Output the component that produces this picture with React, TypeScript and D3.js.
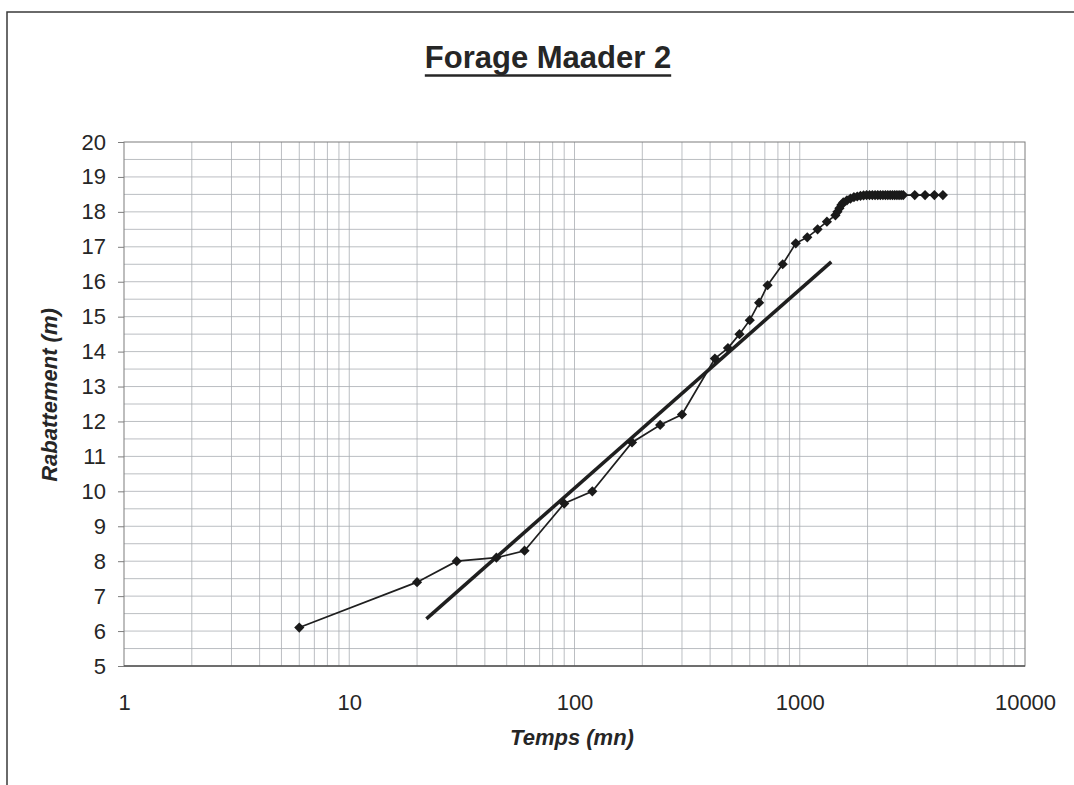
import React, { useEffect, useRef } from 'react';
import * as d3 from 'd3';

// Drawdown test data (time in minutes, drawdown in metres)
const times = [
  6, 20, 30, 45, 60, 90, 120, 180, 240, 300,
  420, 480, 540, 600, 660, 720, 840, 960, 1080, 1200,
  1320, 1440, 1470, 1500, 1530, 1560, 1620, 1680, 1740, 1800,
  1860, 1920, 1980, 2040, 2100, 2160, 2220, 2280, 2340, 2400,
  2460, 2520, 2580, 2640, 2700, 2760, 2820, 2880,
  3240, 3600, 3960, 4320,
];
const drawdown = [
  6.1, 7.4, 8.0, 8.1, 8.3, 9.65, 10.0, 11.4, 11.9, 12.2,
  13.8, 14.1, 14.5, 14.9, 15.4, 15.9, 16.5, 17.1, 17.27, 17.5,
  17.72, 17.9, 18.0, 18.1, 18.2, 18.27, 18.33, 18.38, 18.42, 18.44,
  18.46, 18.47, 18.48, 18.48, 18.48, 18.48, 18.48, 18.48, 18.48, 18.48,
  18.48, 18.48, 18.48, 18.48, 18.48, 18.48, 18.48, 18.48,
  18.48, 18.48, 18.48, 18.48,
];

// Jacob straight-line fit
const fitTimes = [22, 1380];
const fitDrawdown = [6.35, 16.57];

const xTicks = [1, 10, 100, 1000, 10000];
const yTicks = d3.range(5, 21);

const title = 'Forage Maader 2';
const xTitle = 'Temps (mn)';
const yTitle = 'Rabattement (m)';

const W = 1074;
const H = 785;
const FONT = '"Liberation Sans", Arial, sans-serif';

export default function App() {
  const svgRef = useRef<SVGSVGElement>(null);

  useEffect(() => {
    if (!svgRef.current) return;
    const svg = d3.select(svgRef.current);
    svg.selectAll('*').remove();

    const margin = { top: 142, right: 49, bottom: 119, left: 124 };
    const innerWidth = W - margin.left - margin.right;
    const innerHeight = H - margin.top - margin.bottom;

    // outer chart frame (only top and left edges visible in the scan)
    svg.append('path')
      .attr('d', `M7,${H} L7,12 L${W},12`)
      .attr('fill', 'none')
      .attr('stroke', '#3a3a3a')
      .attr('stroke-width', 1.5);

    // title
    const titleText = svg.append('text')
      .attr('x', 548)
      .attr('y', 68)
      .attr('text-anchor', 'middle')
      .attr('font-family', FONT)
      .attr('font-weight', 'bold')
      .attr('font-size', 31)
      .attr('fill', '#262626')
      .text(title);
    const tb = (titleText.node() as SVGTextElement).getBBox();
    svg.append('line')
      .attr('x1', tb.x).attr('x2', tb.x + tb.width)
      .attr('y1', 75.5).attr('y2', 75.5)
      .attr('stroke', '#262626')
      .attr('stroke-width', 2.5);

    const g = svg.append('g')
      .attr('transform', `translate(${margin.left},${margin.top})`);

    const xScale = d3.scaleLog().domain([1, 10000]).range([0, innerWidth]);
    const yScale = d3.scaleLinear().domain([5, 20]).range([innerHeight, 0]);

    // gridlines
    const xGrid = xScale.ticks().filter(t => t > 1 && t < 10000);
    g.append('g')
      .selectAll('line')
      .data(xGrid)
      .join('line')
      .attr('x1', d => xScale(d)).attr('x2', d => xScale(d))
      .attr('y1', 0).attr('y2', innerHeight)
      .attr('stroke', '#a9adb2')
      .attr('stroke-width', 0.8);

    const yGrid = d3.range(5.5, 20, 0.5);
    g.append('g')
      .selectAll('line')
      .data(yGrid)
      .join('line')
      .attr('x1', 0).attr('x2', innerWidth)
      .attr('y1', d => yScale(d)).attr('y2', d => yScale(d))
      .attr('stroke', '#a9adb2')
      .attr('stroke-width', 0.8);

    // plot frame
    g.append('rect')
      .attr('width', innerWidth)
      .attr('height', innerHeight)
      .attr('fill', 'none')
      .attr('stroke', '#7d7d7d')
      .attr('stroke-width', 1);
    g.append('line')
      .attr('x1', 0).attr('x2', innerWidth)
      .attr('y1', innerHeight).attr('y2', innerHeight)
      .attr('stroke', '#555')
      .attr('stroke-width', 1.5);

    // axes
    const xAxis = g.append('g')
      .attr('transform', `translate(0,${innerHeight})`)
      .call(d3.axisBottom(xScale).tickValues(xTicks).tickFormat(d3.format('d')).tickSize(0).tickPadding(28));
    xAxis.select('.domain').remove();

    const yAxis = g.append('g')
      .call(d3.axisLeft(yScale).tickValues(yTicks).tickFormat(d3.format('d')).tickSize(6).tickPadding(12));
    yAxis.select('.domain').remove();
    yAxis.selectAll('line').attr('stroke', '#7d7d7d');

    [xAxis, yAxis].forEach(a => a.selectAll('text')
      .attr('font-family', FONT)
      .attr('font-size', 22)
      .attr('fill', '#262626'));

    // axis titles
    svg.append('text')
      .attr('x', 572)
      .attr('y', 745)
      .attr('text-anchor', 'middle')
      .attr('font-family', FONT)
      .attr('font-style', 'italic')
      .attr('font-weight', 'bold')
      .attr('font-size', 22)
      .attr('fill', '#262626')
      .text(xTitle);

    svg.append('text')
      .attr('transform', 'translate(57,395) rotate(-90)')
      .attr('text-anchor', 'middle')
      .attr('font-family', FONT)
      .attr('font-style', 'italic')
      .attr('font-weight', 'bold')
      .attr('font-size', 22)
      .attr('fill', '#262626')
      .text(yTitle);

    // fit line
    const fitData = fitTimes.map((t, i) => ({ t, s: fitDrawdown[i] }));
    const line = d3.line<{ t: number; s: number }>()
      .x(d => xScale(d.t))
      .y(d => yScale(d.s));

    g.append('path')
      .datum(fitData)
      .attr('fill', 'none')
      .attr('stroke', '#1f1f1f')
      .attr('stroke-width', 3.5)
      .attr('d', line);

    // measured drawdown
    const obs = times.map((t, i) => ({ t, s: drawdown[i] }));
    g.append('path')
      .datum(obs)
      .attr('fill', 'none')
      .attr('stroke', '#1f1f1f')
      .attr('stroke-width', 1.7)
      .attr('d', line);

    const diamond = d3.symbol(d3.symbolSquare, 52)();
    g.append('g')
      .selectAll('path')
      .data(obs)
      .join('path')
      .attr('d', diamond)
      .attr('transform', d => `translate(${xScale(d.t)},${yScale(d.s)}) rotate(45)`)
      .attr('fill', '#1a1a1a');
  }, []);

  return (
    <div style={{ position: 'absolute', left: 0, top: 0, background: '#fff' }}>
      <svg ref={svgRef} width={W} height={H} />
    </div>
  );
}
